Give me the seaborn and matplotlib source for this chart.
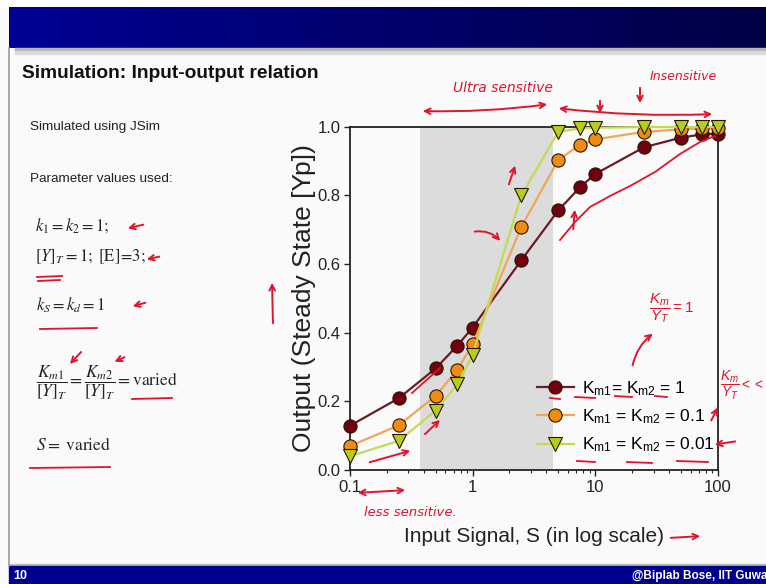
import numpy as np
import matplotlib
matplotlib.use('Agg')
import matplotlib.pyplot as plt
from matplotlib.patches import Rectangle
from matplotlib import font_manager as fm
import seaborn as sns

# ---------------- data ----------------
signal = [0.1, 0.25, 0.5, 0.75, 1, 2.5, 5, 7.5, 10, 25, 50, 75, 100]
yp_km1 = [0.129, 0.209, 0.296, 0.362, 0.415, 0.611, 0.756, 0.823, 0.862, 0.940, 0.968, 0.978, 0.980]
yp_km01 = [0.070, 0.130, 0.216, 0.291, 0.366, 0.708, 0.903, 0.947, 0.963, 0.985, 0.992, 0.995, 0.996]
yp_km001 = [0.040, 0.085, 0.173, 0.250, 0.335, 0.800, 0.985, 0.995, 0.997, 0.999, 0.999, 0.999, 0.999]
labels = [r'K$_\mathregular{m1}$= K$_\mathregular{m2}$ = 1',
          r'K$_\mathregular{m1}$ = K$_\mathregular{m2}$ = 0.1',
          r'K$_\mathregular{m1}$ = K$_\mathregular{m2}$ = 0.01']
shade_range = [0.372, 4.5]
xticks = [0.1, 1, 10, 100]
xticklabels = ['0.1', '1', '10', '100']
yticks = [0.0, 0.2, 0.4, 0.6, 0.8, 1.0]

names = {f.name for f in fm.fontManager.ttflist}
NARROW = 'Liberation Sans Narrow' if 'Liberation Sans Narrow' in names else 'Liberation Sans'
SANS = 'Liberation Sans'
plt.rcParams['font.family'] = [SANS, 'DejaVu Sans']
plt.rcParams['mathtext.fontset'] = 'custom'
plt.rcParams['mathtext.rm'] = SANS
plt.rcParams['mathtext.it'] = SANS + ':italic'

W, H = 766, 584
fig = plt.figure(figsize=(W / 100, H / 100), dpi=100)
fig.patch.set_facecolor('#fafafa')

# background layer in pixel coordinates
bg = fig.add_axes([0, 0, 1, 1], zorder=0)
bg.set_xlim(0, W); bg.set_ylim(H, 0); bg.axis('off')
bg.add_patch(Rectangle((0, 0), W, 7, color='white'))
grad = np.linspace(0, 1, 256)
c0 = np.array([0x00, 0x00, 0x94]) / 255
c1 = np.array([0x00, 0x00, 0x46]) / 255
img = (c0[None, :] * (1 - grad[:, None]) + c1[None, :] * grad[:, None])[None, :, :]
bg.imshow(img, extent=(9, W, 48, 7), aspect='auto', zorder=1)
bg.add_patch(Rectangle((15, 48), W - 15, 3, color='#b4b4b4', zorder=1))
bg.add_patch(Rectangle((15, 51), W - 15, 3, color='#dadada', zorder=1))
bg.plot([9, 9], [48, 566], color='#9a9a9a', lw=1.2)
bg.add_patch(Rectangle((9, 564), W - 9, 2, color='#bdbdbd', zorder=1))
bg.add_patch(Rectangle((9, 566), W - 9, 18, color='#000090', zorder=1))
bg.text(13, 576, '10', color='white', fontsize=9, fontweight='bold', family=NARROW, va='center')
bg.text(632, 576, '@Biplab Bose, IIT Guwahati', color='white', fontsize=8.5, fontweight='bold',
        family=NARROW, va='center', clip_on=False)

bg.text(22, 74, 'Simulation: Input-output relation', fontsize=13.8, fontweight='bold',
        family=NARROW, va='center', color='#111111')
bg.text(30, 127, 'Simulated using JSim', fontsize=9.7, family=NARROW, va='center', color='#222')
bg.text(30, 179, 'Parameter values used:', fontsize=9.7, family=NARROW, va='center', color='#222')
mt = dict(math_fontfamily='stix', fontsize=12, va='center', color='#222')
bg.text(35, 226, r'$k_1 = k_2 = 1;$', **mt)
bg.text(35, 257, r'$[Y]_T = 1;\ [\mathrm{E}]\!=\!3;$', **mt)
bg.text(36, 305, r'$k_S = k_d = 1$', **mt)
bg.text(36, 383, r'$\dfrac{K_{m1}}{[Y]_T} = \dfrac{K_{m2}}{[Y]_T} = \mathrm{varied}$',
        **dict(mt, fontsize=12.5))
bg.text(36, 445, r'$S = \ \mathrm{varied}$', **dict(mt, fontsize=12.5))

# ---------------- chart ----------------
ax = fig.add_axes([350 / W, 1 - 470 / H, 367.7 / W, 343.3 / H], zorder=1)
ax.set_facecolor('#fafafa')
ax.axvspan(shade_range[0], shade_range[1], color='#dcdcdc', zorder=0, lw=0)

series = [
    (yp_km1, '#6c1b26', 'o', '#72000f'),
    (yp_km01, '#f2a458', 'o', '#f08c14'),
    (yp_km001, '#c4da52', 'v', '#b5cd1c'),
]
for (yv, lc, mk, fc), lab in zip(series, labels):
    sns.lineplot(x=signal, y=yv, ax=ax, color=lc, lw=1.6, marker=mk,
                 markersize=9.5 if mk == 'o' else 10, markerfacecolor=fc,
                 markeredgecolor='#2a1500', markeredgewidth=0.8,
                 label=lab, clip_on=False, zorder=3)

ax.set_xscale('log')
ax.set_xlim(0.1, 100)
ax.set_ylim(0, 1)
ax.set_xticks(xticks)
ax.set_xticklabels(xticklabels)
ax.set_yticks(yticks)
ax.set_yticklabels([f'{v:.1f}' for v in yticks])
ax.tick_params(axis='both', which='major', direction='out', length=4, width=1,
               labelsize=12, colors='#222', pad=3)
ax.tick_params(axis='x', which='minor', direction='out', length=2.5, width=0.8, colors='#222')
for s in ax.spines.values():
    s.set_color('#222'); s.set_linewidth(1.3)
ax.set_xlabel('Input Signal, S (in log scale)', fontsize=15, color='#222', labelpad=23)
ax.set_ylabel('Output (Steady State [Yp])', fontsize=19, color='#222', labelpad=1)

leg = ax.legend(loc='lower left', bbox_to_anchor=(0.484, 0.02), frameon=False,
                fontsize=12.5, handlelength=2.15, handletextpad=0.45, borderpad=0,
                labelspacing=0.55)

# ---------------- red hand annotations (overlay) ----------------
ov = fig.add_axes([0, 0, 1, 1], zorder=10)
ov.set_xlim(0, W); ov.set_ylim(H, 0); ov.axis('off'); ov.patch.set_alpha(0)
RED = '#e0142c'
ap = dict(arrowstyle='->', color=RED, lw=1.4)
dap = dict(arrowstyle='<->', color=RED, lw=1.4, connectionstyle='arc3,rad=-0.04')
hand = dict(color=RED, fontsize=10, fontstyle='italic', family='DejaVu Sans', va='center', ha='center')

ov.annotate('', xy=(420, 111), xytext=(550, 104), arrowprops=dap)
ov.annotate('', xy=(556, 108), xytext=(715, 114), arrowprops=dap)
ov.annotate('', xy=(600, 116), xytext=(600, 98), arrowprops=ap)
ov.annotate('', xy=(640, 106), xytext=(640, 85), arrowprops=ap)
ov.text(503, 88, 'Ultra sensitive', **hand)
ov.text(683, 77, 'Insensitive', **dict(hand, fontsize=9))
ov.annotate('', xy=(355, 493), xytext=(408, 490), arrowprops=dict(arrowstyle='<->', color=RED, lw=1.4))
ov.text(410, 512, 'less sensitive.', **dict(hand, fontsize=9.5))
ov.annotate('', xy=(703, 536), xytext=(668, 538), arrowprops=ap)
ov.text(672, 308, r'$\dfrac{K_m}{Y_T}=1$', color=RED, fontsize=11, va='center', ha='center')
ov.annotate('', xy=(655, 332), xytext=(632, 368), arrowprops=dict(ap, connectionstyle='arc3,rad=-0.2'))
ov.text(742, 385, r'$\dfrac{K_m}{Y_T}<<$', color=RED, fontsize=10, va='center', ha='center')
ov.annotate('', xy=(719, 405), xytext=(710, 423), arrowprops=ap)
ov.annotate('', xy=(712, 445), xytext=(738, 441), arrowprops=ap)
for x0, x1, yy in [(550, 560, 398), (575, 595, 397), (615, 632, 396), (655, 667, 396),
                   (577, 595, 461), (627, 652, 462), (677, 708, 461)]:
    ov.plot([x0, x1], [yy, yy + 1], color=RED, lw=1.3)
# left side
ov.annotate('', xy=(125, 229), xytext=(146, 224), arrowprops=ap)
ov.annotate('', xy=(144, 260), xytext=(162, 256), arrowprops=ap)
ov.annotate('', xy=(130, 307), xytext=(148, 302), arrowprops=ap)
ov.annotate('', xy=(68, 366), xytext=(83, 350), arrowprops=ap)
ov.annotate('', xy=(112, 363), xytext=(127, 356), arrowprops=ap)
for x0, x1, yy in [(37, 62, 277), (38, 60, 281), (40, 97, 329), (132, 172, 399), (30, 110, 468)]:
    ov.plot([x0, x1], [yy, yy - 1], color=RED, lw=1.3)
ov.annotate('', xy=(272, 280), xytext=(273, 326), arrowprops=ap)
# inside the plot
ov.annotate('', xy=(413, 450), xytext=(367, 463), arrowprops=ap)
ov.annotate('', xy=(442, 418), xytext=(423, 436), arrowprops=ap)
ov.plot([412, 440], [393, 368], color=RED, lw=1.3)
ov.annotate('', xy=(502, 243), xytext=(472, 232), arrowprops=dict(ap, connectionstyle='arc3,rad=-0.3'))
ov.annotate('', xy=(516, 163), xytext=(508, 187), arrowprops=ap)
ov.plot([560, 575, 590, 610, 630, 655, 680, 700, 715], [240, 222, 207, 196, 186, 172, 154, 142, 136],
        color=RED, lw=1.3)
ov.annotate('', xy=(575, 207), xytext=(573, 232), arrowprops=ap)

fig.savefig('out.png', dpi=100, facecolor=fig.get_facecolor())
